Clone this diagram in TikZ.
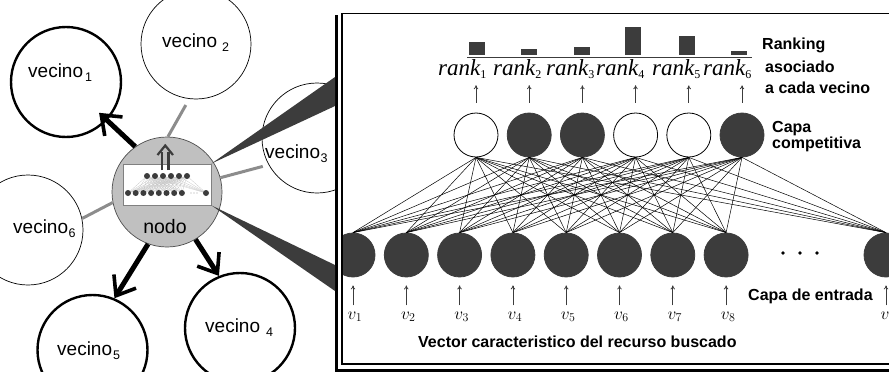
\documentclass[tikz,border=0pt]{standalone}
\usepackage[no-math]{fontspec}
\newfontfamily\sansfont{Liberation Sans}
\newfontfamily\serffont{Liberation Serif}
\usetikzlibrary{arrows.meta}

\definecolor{dk}{HTML}{3C3C3C}
\definecolor{nodofill}{HTML}{C0C0C0}
\definecolor{linkgray}{HTML}{8C8C8C}

% neighbour label: "vecino" with a lowered index
\newcommand\vecinolab[2]{\sansfont\fontsize{19}{19}\selectfont vecino\hspace{#1}\raisebox{-4.5pt}{\fontsize{12.5}{12.5}\selectfont #2}}
% ranking label in italic serif with an upright index
\newcommand\ranklab[1]{\serffont\itshape\fontsize{23}{23}\selectfont rank\raisebox{-3pt}{\upshape\fontsize{12}{12}\selectfont #1}}
\newcommand\boldlab{\sansfont\bfseries\fontsize{16}{16}\selectfont}

\begin{document}
\begin{tikzpicture}[x=1pt,y=-1pt,
  nbthin/.style={circle, draw, line width=0.7pt, minimum size=110pt, inner sep=0pt},
  nbthick/.style={circle, draw, line width=2.4pt, minimum size=110pt, inner sep=0pt},
  lab/.style={anchor=base west, inner sep=0pt},
  grayline/.style={draw=linkgray, line width=3pt},
  bigarrow/.style={line width=5pt, -{Straight Barb[length=17pt, width=26pt, line width=3.6pt]}},
  unit/.style={circle, draw=black, line width=0.8pt, minimum size=44pt, inner sep=0pt},
  on/.style={unit, fill=dk, draw=dk},
  off/.style={unit, fill=white},
  wire/.style={line width=0.5pt},
  uparrow/.style={draw=dk, line width=0.8pt, -{To[length=4pt,width=4.5pt]}},
  minidot/.style={fill=dk}
]
\useasboundingbox (0,0) rectangle (889,372);
\clip (0,0) rectangle (889,372);

% ---------- neighbourhood ----------
\node[nbthick] (v1) at (66,82) {};
\node[nbthin]  (v2) at (196,44) {};
\node[nbthin]  (v3) at (317,138) {};
\node[nbthick] (v4) at (240,328) {};
\node[nbthick] (v5) at (92.5,350) {};
\node[nbthin]  (v6) at (28,230) {};

\node[lab] (v1t) at (28,77)  {\vecinolab{2pt}{1}};
\node[lab] (v2t) at (162,47) {\vecinolab{5pt}{2}};
\node[lab] (v3t) at (265,158) {\vecinolab{0.5pt}{3}};
\node[lab] (v4t) at (205,332) {\vecinolab{6pt}{4}};
\node[lab] (v5t) at (57,355) {\vecinolab{1pt}{5}};
\node[lab] (v6t) at (13,233) {\vecinolab{0.5pt}{6}};

% central node
\node[circle, draw=gray!60!black, fill=nodofill, line width=0.7pt, minimum size=110pt, inner sep=0pt] (nodo) at (167,192) {};

% plain links and chosen links
\draw[grayline, shorten >=7pt] (nodo.89) -- (v2.263);
\draw[grayline, shorten >=6pt] (nodo.15) -- (v3.209);
\draw[grayline] (nodo.191) -- (v6.12);
\draw[bigarrow, shorten >=-11pt] (nodo.125) -- (v1.-43);
\draw[bigarrow] (nodo.250) -- (v5.67);
\draw[bigarrow] (nodo.-59) -- (v4.112);

\node[anchor=base, inner sep=0pt] (nodot) at (165,233) {\sansfont\fontsize{19.5}{19.5}\selectfont nodo};

% small copy of the network inside the node
\node[draw=gray, line width=0.8pt, fill=white, minimum width=88pt, minimum height=41pt, inner sep=0pt] (zoomrect) at (167,184.5) {};
\foreach \k in {0,...,5} \coordinate (mt\k) at (147+8*\k,176);
\foreach \k in {0,...,7} \coordinate (mb\k) at (128+7.7*\k,193);
\coordinate (mb8) at (206,193);
\foreach \a in {0,...,5}
  \foreach \b in {0,...,8}
    \draw[gray!45, line width=0.25pt] (mt\a) -- (mb\b);
\foreach \k in {0,...,5} \fill[minidot] (mt\k) circle (3pt);
\foreach \k in {0,...,8} \fill[minidot] (mb\k) circle (3pt);
\foreach \xx in {191,194,197} \fill[gray!70] (\xx,193) circle (0.6pt);

% double arrow above the small network
\draw[dk, line width=2.2pt] (162,170) -- (162,152) (168.5,170) -- (168.5,152);
\draw[dk, line width=2.2pt, line join=miter] (157.5,155) -- (165.25,145.5) -- (173,155);

% ---------- enlarged panel ----------
\fill[white] (335,0) rectangle (889,372);
\draw[line width=3pt] (336.5,15) -- (336.5,370.5) -- (895,370.5);
\draw[line width=1.5pt, fill=white] (342,13.5) rectangle (900,364);

% projection wedges
\fill[dk] (zoomrect.north east) -- (335,77) -- (335,106) -- cycle;
\fill[dk] (zoomrect.south east) -- (335,265) -- (335,291) -- cycle;

\begin{scope}
\clip (343,14.5) rectangle (889,363);

\foreach \j/\x/\st in {1/476/off, 2/529.2/on, 3/582.4/on, 4/635.6/off, 5/688.8/off, 6/742/on}
  \node[\st] (c\j) at (\x,135) {};
\foreach \i/\x in {1/353,2/406.3,3/459.6,4/512.9,5/566.2,6/619.5,7/672.8,8/726.1,9/886}
  \node[on] (in\i) at (\x,255) {};

\foreach \j in {1,...,6}
  \foreach \i in {1,...,9}
    \draw[wire] (c\j.south) -- (in\i.north);

\foreach \xx in {783,800,817} \fill (\xx,253) circle (1.8pt);

% input values
\foreach \i/\x in {1/353,2/406.3,3/459.6,4/512.9,5/566.2,6/619.5,7/672.8,8/726.1,9/886}
  \node[anchor=base, inner sep=0pt] (vl\i) at (\x+2,319) {\fontsize{18}{18}\selectfont $v_{\i}$};
\foreach \i in {1,...,9}
  \draw[uparrow, shorten <=6pt, shorten >=8pt] (vl\i.north -| in\i) -- (in\i.south);

\node[lab] (entrada) at (748,300) {\boldlab Capa de entrada};
\node[lab] (vector) at (418,347) {\boldlab Vector caracteristico del recurso buscado};

% ranking of each neighbour
\foreach \j/\x in {1/438,2/493,3/546,4/596,5/652,6/703}
  \node[lab] (rk\j) at (\x,75) {\ranklab{\j}};
\foreach \j in {1,...,6}
  \draw[uparrow, shorten <=10pt, shorten >=7pt] (c\j.north) -- (rk\j.south -| c\j);

\draw[dk, line width=1pt] (467,57) -- (752,57);
\foreach \x/\t in {477/42, 529/49, 582/47, 633/27, 687/36, 739/51}
  \fill[dk] (\x-8,\t) rectangle (\x+8,55);

\node[lab] (rkA) at (762,49) {\boldlab Ranking};
\node[lab] (rkB) at (765,72) {\boldlab asociado};
\node[lab] (rkC) at (765,93) {\boldlab a cada vecino};
\node[lab] (cpA) at (772,132) {\boldlab Capa};
\node[lab] (cpB) at (772,148) {\boldlab competitiva};
\end{scope}
\end{tikzpicture}
\end{document}
